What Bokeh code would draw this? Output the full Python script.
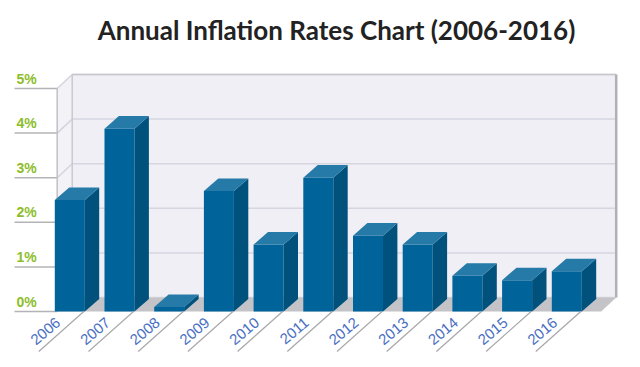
import numpy as np
from bokeh.plotting import figure
from bokeh.models import Range1d, ColumnDataSource, Label
from bokeh.core.properties import value
from bokeh.embed import file_html
from bokeh.resources import INLINE

# ---- data ----
years = ["2006", "2007", "2008", "2009", "2010", "2011", "2012", "2013", "2014", "2015", "2016"]
rates = [2.5, 4.1, 0.1, 2.7, 1.5, 3.0, 1.7, 1.5, 0.8, 0.7, 0.9]
y_ticks = [0, 1, 2, 3, 4, 5]
y_tick_labels = ["0%", "1%", "2%", "3%", "4%", "5%"]
title_text = "Annual Inflation Rates Chart (2006-2016)"

# ---- layout (pixel scale of the data space) ----
W, H = 632, 362
PX_X = 49.7          # pixels per category
PX_Y = 44.6          # pixels per percent
X0_PX = 69.3         # canvas x of category 0 centre
Y0_PX = 311          # canvas y (from top) of 0%

x_start = (0 - X0_PX) / PX_X
x_end = (W - X0_PX) / PX_X
y_start = (Y0_PX - H) / PX_Y
y_end = Y0_PX / PX_Y

p = figure(width=W, height=H, output_backend="svg", toolbar_location=None,
           x_range=Range1d(x_start, x_end), y_range=Range1d(y_start, y_end),
           min_border=0, title=None)
p.axis.visible = False
p.grid.visible = False
p.outline_line_color = None
p.background_fill_color = "white"
p.border_fill_color = "white"

# depth offsets
wdx, wdy = 15 / PX_X, 14 / PX_Y        # walls
bdx, bdy = 14.4 / PX_X, 12.6 / PX_Y    # bars
half = 15 / PX_X                       # half bar width

ymax = max(y_ticks)
wall_front_x = -12.6 / PX_X
wall_back_x = wall_front_x + wdx
back_right = (615.7 - 69.3) / PX_X
front_right = back_right - wdx
grid_left = (14 - 69.3) / PX_X

# back wall
p.patch([wall_back_x, back_right, back_right, wall_back_x],
        [wdy, wdy, ymax + wdy, ymax + wdy], fill_color="#efeff5", line_color=None)
# left wall
p.patch([wall_front_x, wall_back_x, wall_back_x, wall_front_x],
        [0, wdy, ymax + wdy, ymax], fill_color="#f3f3f7", line_color=None)

# grid lines: back wall, left wall diagonal, front left
n = len(y_ticks)
p.segment(x0=[wall_back_x] * n, y0=[t + wdy for t in y_ticks],
          x1=[back_right] * n, y1=[t + wdy for t in y_ticks],
          line_color="#d6d6e0", line_width=1.5)
p.segment(x0=[wall_front_x] * n, y0=y_ticks,
          x1=[wall_back_x] * n, y1=[t + wdy for t in y_ticks],
          line_color="#d4d4de", line_width=1.5)
p.segment(x0=[grid_left] * n, y0=y_ticks, x1=[wall_front_x] * n, y1=y_ticks,
          line_color="#b4b4b8", line_width=1.5)
# wall edges
p.line([wall_front_x, wall_front_x], [0, ymax], line_color="#c0c0c6", line_width=1.5)
p.line([wall_back_x, wall_back_x], [wdy, ymax + wdy], line_color="#c8c8d0", line_width=1.5)
p.line([wall_back_x, back_right], [ymax + wdy, ymax + wdy], line_color="#c8c8cc", line_width=1.5)
p.line([back_right, back_right], [wdy, ymax + wdy], line_color="#b0b0b6", line_width=2.5)

# floor
p.patch([wall_front_x, front_right, back_right, wall_back_x],
        [0, 0, wdy, wdy], fill_color="#c4c4c8", line_color=None)

# y tick labels
p.text(x=[grid_left + 2 / PX_X] * n, y=[t + 10 / PX_Y for t in y_ticks], text=y_tick_labels,
       text_font=value("Liberation Sans"), text_font_style="bold",
       text_font_size="14px", text_color="#8cbd2a",
       text_align="left", text_baseline="alphabetic")

# bars
xs = np.arange(len(years), dtype=float)
v = np.array(rates)
front = ColumnDataSource(dict(left=xs - half, right=xs + half, top=v, bottom=np.zeros_like(v)))
p.quad(left="left", right="right", top="top", bottom="bottom", source=front,
       fill_color="#006399", line_color=None)
side_x = [[x + half, x + half + bdx, x + half + bdx, x + half] for x in xs]
side_y = [[0, bdy, r + bdy, r] for r in v]
p.patches(side_x, side_y, fill_color="#00527d", line_color=None)
top_x = [[x - half, x + half, x + half + bdx, x - half + bdx] for x in xs]
top_y = [[r, r, r + bdy, r + bdy] for r in v]
p.patches(top_x, top_y, fill_color="#267aa8", line_color=None)

# category slanted tick lines and labels
ldx, ldy = 45 / PX_X, 40 / PX_Y
p.segment(x0=xs + half - 1 / PX_X, y0=[0] * len(xs),
          x1=xs + half - 1 / PX_X - ldx, y1=[-ldy] * len(xs),
          line_color="#a8a8ac", line_width=1.2)
p.text(x=xs - 11.5 / PX_X, y=[-9 / PX_Y] * len(xs), text=years,
       angle=np.deg2rad(40),
       text_font=value("Liberation Sans"), text_font_size="15px", text_color="#4a70c2",
       text_align="right", text_baseline="alphabetic")

# title
p.add_layout(Label(x=336, y=H - 29, x_units="screen", y_units="screen", text=title_text,
                   text_font="Lato", text_font_style="bold", text_font_size="26px",
                   text_color="#222222", text_align="center", text_baseline="alphabetic"))

open("out.html", "w").write(file_html(p, INLINE))
